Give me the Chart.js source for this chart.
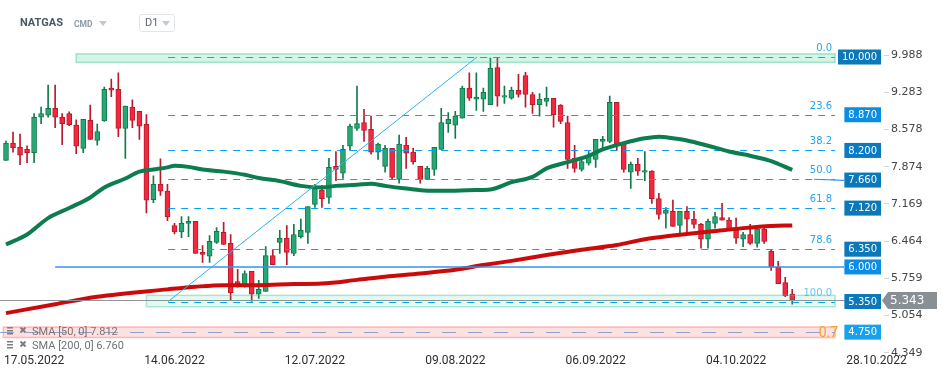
<!DOCTYPE html>
<html>
<head>
<meta charset="utf-8">
<script src="https://cdn.jsdelivr.net/npm/chart.js@4"></script>
<style>
  html, body { margin: 0; padding: 0; background: #fff; }
  #wrap { position: relative; width: 949px; height: 378px; overflow: hidden; }
  canvas { position: absolute; left: 0; top: 0; }
  .hdr { position: absolute; font-family: Roboto, sans-serif; white-space: nowrap; }
  .tri { position: absolute; width: 0; height: 0; border-left: 4px solid transparent; border-right: 4px solid transparent; border-top: 5px solid #c3cad0; }
</style>
</head>
<body>
<div id="wrap">
  <canvas id="chart" width="949" height="378"></canvas>
  <div class="hdr" style="left:20px;top:16px;font-size:11px;font-weight:bold;color:#4b5862">NATGAS</div>
  <div class="hdr" style="left:74px;top:19px;font-size:8.5px;font-weight:bold;color:#8d9aa5">CMD</div>
  <div class="tri" style="left:99px;top:21px"></div>
  <div class="hdr" style="left:139px;top:14px;width:34px;height:16px;border:1px solid #e1e5e8;border-radius:3px"></div>
  <div class="hdr" style="left:145px;top:16px;font-size:11px;color:#5a6570">D1</div>
  <div class="tri" style="left:162px;top:21px"></div>
</div>
<script>
// daily candles, 11.05.2022 .. 28.09.2022 (last one still open)
const opens = [7.99,8.32,8.24,8.20,8.14,8.81,8.85,8.98,8.81,8.88, 8.66,8.22,8.75,8.37,8.74,9.36,9.34,8.60,9.00,8.92,
  8.68,7.25,7.54,7.41,6.76,6.64,6.80,6.84,6.25,6.18, 6.44,6.63,6.42,5.70,5.64,5.89,5.46,5.51,6.19,6.44,
  6.52,6.23,6.55,6.63,7.16,7.43,7.29,7.88,7.75,8.26, 8.60,8.71,8.58,8.15,7.88,8.22,7.63,8.28,8.15,7.88,
  7.63,7.82,8.20,8.69,8.66,8.79,9.36,9.15,9.15,9.05, 9.75,9.19,9.17,9.32,9.60,9.24,9.05,9.11,9.17,9.04,
  8.71,8.03,7.82,7.94,8.01,8.35,8.35,9.09,8.30,7.77, 7.92,7.77,7.79,7.27,6.99,7.03,6.76,7.03,6.88,6.78,
  6.50,6.80,6.91,6.86,6.67,6.50,6.59,6.42,6.69,6.27, 5.97,5.68,5.46];
const highs = [8.36,8.53,8.49,8.27,8.88,9.00,9.42,9.42,8.88,8.91, 8.76,8.77,9.04,8.68,9.38,9.53,9.65,9.02,9.14,8.92,
  8.86,7.70,8.02,7.54,6.80,6.93,6.93,6.84,6.38,6.57, 6.72,6.82,6.59,5.93,5.90,5.89,5.72,6.36,6.29,6.67,
  6.76,6.78,6.88,7.12,7.54,7.52,8.03,8.16,8.28,8.68, 9.40,8.96,8.83,8.32,8.28,8.22,8.47,8.43,8.22,7.88,
  7.88,8.24,8.98,8.90,8.92,9.40,9.65,9.65,9.36,9.93, 9.94,9.40,9.38,9.62,9.66,9.28,9.26,9.38,9.17,9.05,
  8.83,8.28,8.05,8.16,8.39,8.45,9.21,9.09,8.30,7.96, 8.03,8.16,7.80,7.37,7.10,7.24,7.03,7.12,7.03,6.80,
  6.88,7.01,7.18,6.91,6.90,6.63,6.78,6.76,6.71,6.31, 6.08,5.78,5.55];
const lows = [7.99,8.15,7.91,7.95,7.95,8.69,8.81,8.61,8.29,8.65, 8.12,8.14,8.39,8.28,8.73,9.20,8.44,8.03,8.61,8.39,
  7.00,7.19,7.33,6.85,6.60,6.53,6.55,6.23,6.06,6.06, 6.42,6.40,5.35,5.59,5.59,5.32,5.38,5.51,6.02,6.23,
  6.02,6.19,6.52,6.42,7.10,7.10,7.18,7.61,7.65,8.18, 8.56,8.35,8.11,8.01,7.77,7.63,7.56,7.84,7.92,7.56,
  7.63,7.71,8.20,8.52,8.41,8.79,9.13,8.94,8.92,9.05, 9.02,9.07,9.15,9.19,9.00,8.88,8.83,9.02,8.62,8.69,
  7.84,7.77,7.79,7.90,7.86,8.20,8.33,8.18,7.77,7.46, 7.71,7.61,7.18,6.88,6.71,6.74,6.59,6.61,6.71,6.33,
  6.33,6.71,6.86,6.69,6.42,6.36,6.40,6.35,6.42,5.91, 5.66,5.41,5.27];
const closes = [8.32,8.23,8.09,8.14,8.81,8.88,8.98,8.81,8.69,8.67, 8.26,8.77,8.39,8.54,9.34,9.32,8.60,9.02,8.75,8.64,
  7.24,7.54,7.41,6.92,6.64,6.80,6.84,6.23,6.21,6.46, 6.65,6.40,5.49,5.66,5.85,5.46,5.55,6.19,6.02,6.52,
  6.25,6.59,6.67,7.12,7.46,7.27,7.86,7.82,8.20,8.64, 8.69,8.56,8.15,8.30,8.22,7.67,8.30,8.13,7.97,7.63,
  7.84,8.24,8.71,8.77,8.83,9.36,9.17,9.19,9.28,9.74, 9.21,9.22,9.32,9.24,9.24,9.05,9.15,9.17,8.86,8.73,
  8.01,7.84,7.97,8.07,8.39,8.39,9.09,8.30,7.82,7.92, 7.79,7.80,7.27,6.97,7.05,6.74,7.03,6.88,6.78,6.50,
  6.84,6.93,6.86,6.69,6.52,6.59,6.42,6.69,6.46,5.97, 5.66,5.43,5.343];

// moving averages, read at candle positions
const sma50Idx = [0,3,6,9,12,14,17,19,21,23,24,26,28,31,34,36,39,42,45,47,50,52,54,57,60,64,67,69,72,75,77,80,83,85,88,91,93,95,97,100,103,106,109,112];
const sma50Val = [6.40,6.59,6.90,7.09,7.29,7.48,7.65,7.78,7.82,7.86,7.89,7.87,7.82,7.78,7.72,7.66,7.60,7.51,7.48,7.51,7.53,7.55,7.51,7.46,7.42,7.42,7.43,7.44,7.58,7.68,7.84,7.96,8.08,8.20,8.32,8.41,8.44,8.41,8.37,8.27,8.16,8.08,7.98,7.812];
const sma200Idx = [0,7,13,23,27,31,36,41,45,50,54,59,64,68,72,77,82,87,91,95,100,105,109,112];
const sma200Val = [5.10,5.27,5.41,5.55,5.60,5.63,5.63,5.65,5.66,5.73,5.79,5.85,5.92,6.01,6.09,6.20,6.30,6.39,6.50,6.57,6.64,6.71,6.75,6.760];

// axes
const dateIdx = [4,24,44,64,84,104,124];
const dateTicks = ['17.05.2022','14.06.2022','12.07.2022','09.08.2022','06.09.2022','04.10.2022','28.10.2022'];
const priceTicks = [4.349,5.054,5.759,6.464,7.169,7.874,8.578,9.283,9.988];

// drawings: fibonacci retracement, zones, levels
const fibNames = ['0.0','23.6','38.2','50.0','61.8','78.6','100.0'];
const fibLevels = [9.95,8.857,8.181,7.635,7.089,6.311,5.32];
const fibStart = 23.1, trendEnd = 67.1;
const zoneEnd = 118.1;
const topZone = [10.01, 9.85], topZoneStart = 10;
const lowZone = [5.437, 5.221], lowZoneStart = 20;
const redZone = [4.837, 4.638], redZoneStart = -0.38, redMid = 4.74;
const hLevel = 5.975, hLevelStart = 7;
const shortLevel = [7.635, 7.615], shortLevelStart = 115.1;
const boxLevels = [9.95,8.857,8.181,7.62,7.089,6.311,5.975,5.32,4.74];
const boxTexts = ['10.000','8.870','8.200','7.660','7.120','6.350','6.000','5.350','4.750'];
const lastPrice = 5.343;
const legendTexts = ['SMA [50, 0] 7.812', 'SMA [200, 0] 6.760'];

const boxColors = ['#0a78b9','#0b8de6','#0a7bc2','#0a78bd','#0a78b9','#0a78b9','#0b8de6','#0a78b9','#19a2ec'];

const idx = opens.map((_, i) => i);
const up = idx.map(i => closes[i] >= opens[i]);
const edge = up.map(u => u ? '#127a4a' : '#b81a2d');

const overlay = {
  id: 'overlay',
  afterDatasetDraw(chart, args) {
    if (args.index !== 1) return;
    const { ctx, chartArea: a, scales: { x, y } } = chart;
    ctx.save();
    ctx.beginPath(); ctx.rect(a.left, a.top, a.width, a.height); ctx.clip();
    ctx.lineWidth = 1;
    ctx.setLineDash([7, 6]);
    ctx.strokeStyle = '#0e9ff2';
    const x0 = x.getPixelForValue(fibStart), x1 = x.getPixelForValue(zoneEnd);
    fibLevels.forEach(v => {
      const py = Math.round(y.getPixelForValue(v)) + 0.5;
      ctx.beginPath(); ctx.moveTo(x0, py); ctx.lineTo(x1, py); ctx.stroke();
    });
    ctx.setLineDash([14, 12]);
    ctx.strokeStyle = '#7db4e2';
    const ry = Math.round(y.getPixelForValue(redMid)) + 0.5;
    ctx.beginPath(); ctx.moveTo(a.left, ry); ctx.lineTo(x1, ry); ctx.stroke();
    ctx.restore();
  },
  afterDatasetsDraw(chart) {
    const { ctx, chartArea: a, scales: { x, y } } = chart;
    const px = v => x.getPixelForValue(v), py = v => y.getPixelForValue(v);
    const xEnd = px(zoneEnd);
    const seg = (xa, ya, xb, yb) => { ctx.beginPath(); ctx.moveTo(xa, ya); ctx.lineTo(xb, yb); ctx.stroke(); };
    ctx.save();
    ctx.setLineDash([]);

    // last price line
    ctx.strokeStyle = '#90959a'; ctx.lineWidth = 1;
    const cy = Math.round(py(lastPrice)) + 0.5;
    seg(a.left, cy, a.right - 3, cy);

    // horizontal levels
    ctx.strokeStyle = '#2f95ec'; ctx.lineWidth = 1.5;
    seg(px(hLevelStart), py(hLevel), a.right - 40, py(hLevel));
    ctx.lineWidth = 1.2;
    seg(px(shortLevelStart), py(shortLevel[0]), a.right - 40, py(shortLevel[1]));

    // legend of the moving averages
    ctx.font = '11px Roboto';
    ctx.textBaseline = 'middle';
    legendTexts.forEach((t, i) => {
      const ly = 331 + i * 14;
      ctx.fillStyle = '#7a7f84';
      ctx.fillRect(7, ly - 4, 6, 1.5); ctx.fillRect(7, ly - 1, 6, 1.5); ctx.fillRect(7, ly + 2, 6, 1.5);
      ctx.strokeStyle = '#7a7f84'; ctx.lineWidth = 2;
      seg(20.5, ly - 3.5, 25.5, ly + 1.5); seg(25.5, ly - 3.5, 20.5, ly + 1.5);
      ctx.fillStyle = '#6e7378';
      ctx.fillText(t, 32, ly + 1);
    });

    // fibonacci level names
    ctx.font = '10px "DejaVu Sans"';
    ctx.textAlign = 'right';
    ctx.textBaseline = 'alphabetic';
    fibLevels.forEach((v, i) => {
      ctx.fillStyle = i === 6 ? '#6cc2f2' : '#22a4ee';
      ctx.fillText(fibNames[i], xEnd - 3, py(v) - 6);
    });

    // zones
    const zone = (range, start, fill, stroke) => {
      const xa = px(start), ya = py(range[0]), yb = py(range[1]);
      ctx.fillStyle = fill; ctx.fillRect(xa, ya, xEnd - xa, yb - ya);
      ctx.strokeStyle = stroke; ctx.lineWidth = 1.5; ctx.strokeRect(xa, ya, xEnd - xa, yb - ya);
    };
    zone(topZone, topZoneStart, 'rgba(40,200,140,0.20)', 'rgba(60,200,150,0.45)');
    zone(lowZone, lowZoneStart, 'rgba(40,200,140,0.12)', 'rgba(60,200,150,0.40)');
    zone(redZone, redZoneStart, 'rgba(245,80,80,0.17)', 'rgba(240,100,100,0.40)');

    // trend line of the retracement
    ctx.strokeStyle = '#2cb1f2'; ctx.lineWidth = 1;
    seg(px(fibStart), py(fibLevels[6]), px(trendEnd), py(fibLevels[0]));

    // clipped label of the red zone
    ctx.font = '14px Roboto';
    ctx.fillStyle = '#f5a02e';
    ctx.textAlign = 'right'; ctx.textBaseline = 'middle';
    ctx.fillText('0.7', xEnd + 3, py(redMid) + 1);

    // value boxes
    ctx.font = '10px "DejaVu Sans"';
    boxLevels.forEach((v, i) => {
      const w = ctx.measureText(boxTexts[i]).width + 8;
      const r = a.right - 3, yc = py(v);
      ctx.fillStyle = boxColors[i];
      ctx.fillRect(r - w, yc - 7.5, w, 15);
      ctx.fillStyle = '#fff';
      ctx.textAlign = 'center'; ctx.textBaseline = 'middle';
      ctx.fillText(boxTexts[i], r - w / 2, yc + 0.5);
    });

    // last price tag
    const tx = a.right - 2;
    ctx.fillStyle = '#889096';
    ctx.beginPath();
    ctx.moveTo(tx, cy); ctx.lineTo(tx + 6, cy - 8.5); ctx.lineTo(tx + 55, cy - 8.5);
    ctx.lineTo(tx + 55, cy + 8.5); ctx.lineTo(tx + 6, cy + 8.5); ctx.closePath(); ctx.fill();
    ctx.fillStyle = '#fff';
    ctx.font = '12px "DejaVu Sans"';
    ctx.textAlign = 'left';
    ctx.fillText(lastPrice.toFixed(3), tx + 8, cy + 0.5);
    ctx.restore();
  }
};

new Chart(document.getElementById('chart'), {
  type: 'bar',
  data: {
    datasets: [
      {
        label: 'wick',
        data: idx.map(i => ({ x: i, y: [lows[i], highs[i]] })),
        backgroundColor: edge,
        borderWidth: 0,
        barThickness: 1,
        grouped: false,
        order: 4
      },
      {
        label: 'body',
        data: idx.map(i => ({ x: i, y: [opens[i], closes[i]] })),
        backgroundColor: up.map(u => u ? '#25a874' : '#f2283e'),
        borderColor: edge,
        borderWidth: 1,
        borderSkipped: false,
        barThickness: 5,
        grouped: false,
        order: 3
      },
      {
        type: 'line',
        label: 'SMA 50',
        data: sma50Idx.map((v, i) => ({ x: v, y: sma50Val[i] })),
        borderColor: '#0d7c4e',
        borderWidth: 4,
        pointRadius: 0,
        cubicInterpolationMode: 'monotone',
        order: 1
      },
      {
        type: 'line',
        label: 'SMA 200',
        data: sma200Idx.map((v, i) => ({ x: v, y: sma200Val[i] })),
        borderColor: '#cc0a0a',
        borderWidth: 4,
        pointRadius: 0,
        cubicInterpolationMode: 'monotone',
        order: 2
      }
    ]
  },
  options: {
    responsive: false,
    animation: false,
    devicePixelRatio: 1,
    layout: { padding: { top: 35, left: 0, right: 0, bottom: 0 } },
    plugins: { legend: { display: false }, tooltip: { enabled: false } },
    scales: {
      x: {
        type: 'linear',
        min: -0.855,
        max: 125.07,
        offset: false,
        grid: { display: false, drawTicks: false },
        border: { display: false },
        afterBuildTicks: s => { s.ticks = dateIdx.map(v => ({ value: v })); },
        afterFit: s => { s.height = 25.2; },
        ticks: {
          autoSkip: false,
          maxRotation: 0,
          padding: 1,
          color: '#2e2e2e',
          font: { family: 'Roboto', size: 12 },
          callback: v => dateTicks[dateIdx.indexOf(v)]
        }
      },
      y: {
        type: 'linear',
        position: 'right',
        min: 4.349,
        max: 10.367,
        grid: { drawOnChartArea: false, drawTicks: true, tickLength: 5, color: '#d3d7db' },
        border: { display: false },
        afterBuildTicks: s => { s.ticks = priceTicks.map(v => ({ value: v })); },
        afterFit: s => { s.width = 65; },
        ticks: {
          padding: 2,
          color: '#454545',
          font: { family: 'DejaVu Sans', size: 11 },
          callback: v => v.toFixed(3)
        }
      }
    }
  },
  plugins: [overlay]
});
</script>
</body>
</html>
